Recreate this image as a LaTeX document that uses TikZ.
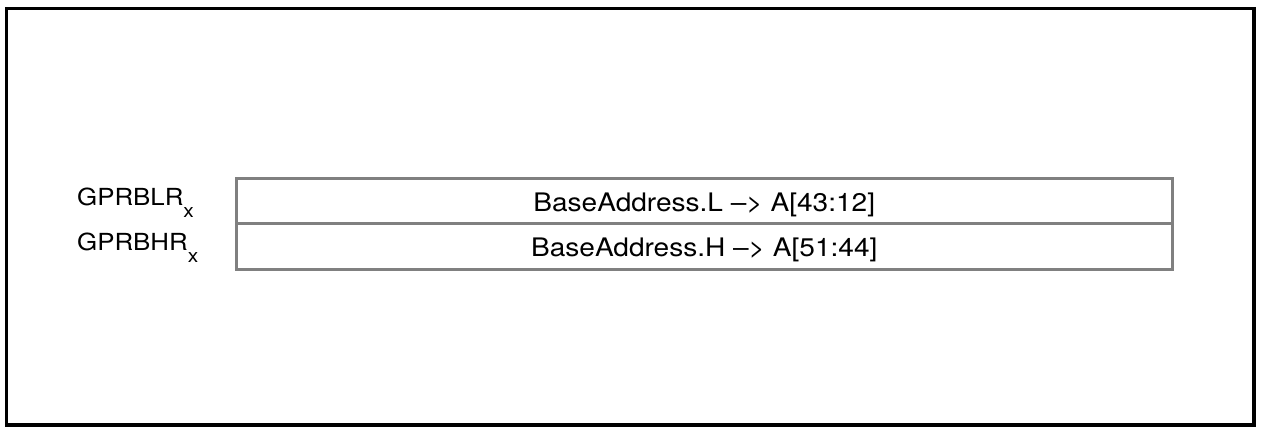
\documentclass[tikz,border=0pt]{standalone}
\usepackage{fontspec}
\setmainfont{TeX Gyre Heros}
\newfontfamily\widefont[FakeStretch=1.1]{TeX Gyre Heros}
\newcommand{\regsub}[1]{\raisebox{-12pt}{\fontsize{19}{19}\selectfont #1}}
\tikzset{
  regfield/.style={draw=gray, line width=3pt, minimum width=935.5pt, minimum height=45.5pt,
    inner sep=0pt, text height=26pt, text depth=5.5pt, font=\widefont\fontsize{25.5}{25.5}\selectfont},
  reglabel/.style={anchor=base west, inner sep=0pt, font=\widefont\fontsize{23.5}{23.5}\selectfont}
}
\begin{document}
\begin{tikzpicture}[x=1pt, y=-1pt]
    \useasboundingbox (0, 0) rectangle (1265, 439);
    \draw[line width=3.5pt] (6.5, 8.5) rectangle (1254, 425);
    \path (704.25, 200.75) node[regfield](bl) {BaseAddress.L \textendash> A[43:12]} (704.25, 246.25) node[regfield](bh) {BaseAddress.H \textendash> A[51:44]};
    \path (77, 205) node[reglabel](blr) {GPRBLR\regsub{x}} (77, 250.5) node[reglabel](bhr) {GPRBHR\regsub{x}};
\end{tikzpicture}
\end{document}
